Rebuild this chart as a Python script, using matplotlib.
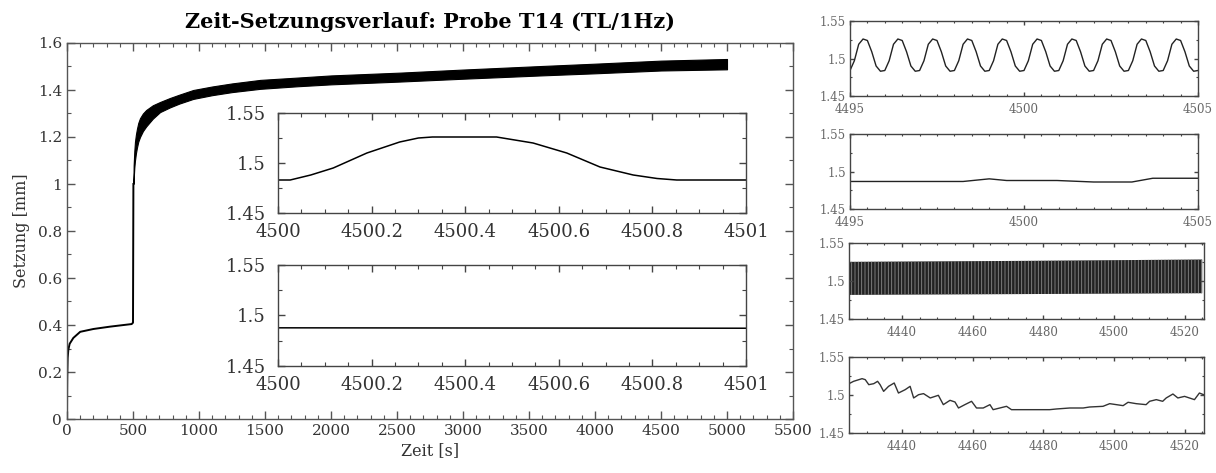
import numpy as np
import matplotlib
matplotlib.use("Agg")
import matplotlib.pyplot as plt
from matplotlib.ticker import MultipleLocator, FuncFormatter

plt.rcParams['font.family'] = ['DejaVu Serif']
plt.rcParams['hatch.linewidth'] = 0.6

# ---- Daten ----
# Erstbelastung 0..500 s
t_start = [0, 1, 2, 5, 10, 20, 48, 100, 200, 326, 490, 500, 503]
s_start = [0.0, 0.12, 0.18, 0.26, 0.294, 0.32, 0.345, 0.371, 0.383, 0.393, 0.404, 0.41, 1.0]

# Zyklische Belastung ab 500 s: Hüllkurven des Bandes
t_band = [503, 505, 510, 515, 522, 530, 540, 553, 575, 600, 650, 705, 780, 850, 956, 1100, 1250,
          1464, 1750, 2000, 2526, 3000, 3589, 4000, 4500, 5000]
s_upper = [1.0, 1.08, 1.14, 1.18, 1.21, 1.235, 1.26, 1.28, 1.30, 1.315, 1.335, 1.349, 1.366, 1.38,
           1.40, 1.415, 1.428, 1.443, 1.453, 1.462, 1.474, 1.487, 1.502, 1.512, 1.525, 1.532]
s_lower = [1.0, 1.02, 1.07, 1.10, 1.13, 1.155, 1.18, 1.20, 1.225, 1.245, 1.278, 1.306, 1.326, 1.342,
           1.362, 1.378, 1.391, 1.405, 1.416, 1.424, 1.436, 1.448, 1.462, 1.471, 1.483, 1.488]

# Inset 1: ein Zyklus 4500..4501 s
t_in1 = [4500.0, 4500.026, 4500.07, 4500.118, 4500.19, 4500.26, 4500.30, 4500.33, 4500.467, 4500.545,
         4500.617, 4500.688, 4500.759, 4500.81, 4500.852, 4501.0]
s_in1 = [1.483, 1.483, 1.488, 1.495, 1.510, 1.521, 1.525, 1.526, 1.526, 1.520,
         1.510, 1.496, 1.488, 1.4845, 1.483, 1.483]

# Inset 2: 4500..4501 s
t_in2 = [4500.0, 4500.5, 4501.0]
s_in2 = [1.4878, 1.4876, 1.4874]

# Rechts oben: 4495..4505 s, Werte alle 0.125 s
t_r1 = np.arange(4495.0, 4505.0001, 0.125)
s_r1 = [1.484, 1.497, 1.519, 1.526, 1.524, 1.509, 1.490, 1.483,
        1.484, 1.497, 1.519, 1.526, 1.524, 1.509, 1.490, 1.483,
        1.484, 1.497, 1.519, 1.526, 1.524, 1.509, 1.490, 1.483,
        1.484, 1.497, 1.519, 1.526, 1.524, 1.509, 1.490, 1.483,
        1.484, 1.497, 1.519, 1.526, 1.524, 1.509, 1.490, 1.483,
        1.484, 1.497, 1.519, 1.526, 1.524, 1.509, 1.490, 1.483,
        1.484, 1.497, 1.519, 1.526, 1.524, 1.509, 1.490, 1.483,
        1.484, 1.497, 1.519, 1.526, 1.524, 1.509, 1.490, 1.483,
        1.484, 1.497, 1.519, 1.526, 1.524, 1.509, 1.490, 1.483,
        1.484, 1.497, 1.519, 1.526, 1.524, 1.509, 1.490, 1.483,
        1.484]

# Rechts, zweites Feld: 4495..4505 s
t_r2 = [4495.0, 4498.25, 4499.0, 4499.5, 4500.95, 4502.0, 4503.1, 4503.7, 4505.0]
s_r2 = [1.4867, 1.4867, 1.4902, 1.488, 1.488, 1.486, 1.486, 1.491, 1.491]

# Rechts, drittes Feld: 4425..4525 s (Hüllkurve der Schwingung)
t_r3 = [4425, 4475, 4525]
s_r3_hi = [1.5252, 1.5265, 1.5283]
s_r3_lo = [1.4817, 1.4828, 1.4839]

# Rechts unten: 4425..4525 s
t_r4 = [4425.0, 4426.3, 4428.7, 4429.6, 4430.6, 4432.0, 4433.1, 4433.8, 4434.8, 4436.2, 4437.8,
        4439.0, 4440.9, 4442.3, 4443.3, 4444.7, 4446.1, 4448.0, 4450.3, 4451.7, 4453.6, 4455.0,
        4456.0, 4457.8, 4459.7, 4461.1, 4463.0, 4464.9, 4465.8, 4467.7, 4469.6, 4471.0, 4474.3,
        4478.1, 4481.8, 4483.7, 4487.5, 4491.3, 4493.1, 4496.9, 4498.8, 4500.7, 4502.6, 4504.0,
        4506.3, 4509.1, 4510.1, 4512.0, 4513.8, 4514.8, 4516.7, 4518.1, 4520.0, 4522.8, 4524.2, 4525.4]
s_r4 = [1.5149, 1.5180, 1.5215, 1.5202, 1.5136, 1.5149, 1.5180, 1.5136, 1.5048, 1.5114, 1.5158,
        1.5026, 1.5070, 1.5114, 1.4961, 1.5004, 1.5018, 1.4961, 1.4996, 1.4873, 1.4930, 1.4908,
        1.4829, 1.4873, 1.4917, 1.4829, 1.4829, 1.4873, 1.4807, 1.4829, 1.4851, 1.4807, 1.4807,
        1.4807, 1.4807, 1.4816, 1.4829, 1.4829, 1.4842, 1.4851, 1.4886, 1.4873, 1.4860, 1.4904,
        1.4886, 1.4873, 1.4917, 1.4939, 1.4917, 1.4961, 1.5013, 1.4961, 1.4982, 1.4939, 1.5026, 1.5004]

W, H = 1216, 473
fig = plt.figure(figsize=(W / 100, H / 100), dpi=100)


def box(l, t, r, b):
    return fig.add_axes([l / W, 1 - b / H, (r - l) / W, (b - t) / H])


def style(ax, size, col, lmaj, lmin, spine='#555555'):
    for s in ax.spines.values():
        s.set_color(spine)
        s.set_linewidth(1.0)
    ax.tick_params(which='both', direction='in', top=True, right=True,
                   labelsize=size, labelcolor=col, color=spine)
    ax.tick_params(which='major', length=lmaj, width=1.0)
    ax.tick_params(which='minor', length=lmin, width=0.8)


fmt_g = FuncFormatter(lambda v, p: f"{v:g}")

# ---- Hauptdiagramm ----
ax = box(67, 43, 793, 419)
ax.plot(t_start, s_start, color='black', lw=1.4)
ax.fill_between(t_band, s_lower, s_upper, color='black', lw=0.8, edgecolor='black')
ax.set_xlim(0, 5500)
ax.set_ylim(0, 1.6)
ax.xaxis.set_major_locator(MultipleLocator(500))
ax.xaxis.set_minor_locator(MultipleLocator(100))
ax.yaxis.set_major_locator(MultipleLocator(0.2))
ax.yaxis.set_minor_locator(MultipleLocator(0.1))
ax.yaxis.set_major_formatter(fmt_g)
style(ax, 11, '#333333', 6, 3)
ax.set_xlabel('Zeit [s]', fontsize=11.5, color='#333333', labelpad=3)
ax.set_ylabel('Setzung [mm]', fontsize=11.5, color='#333333', labelpad=6)
fig.text(430 / W, 1 - 22 / H, 'Zeit-Setzungsverlauf: Probe T14 (TL/1Hz)',
         ha='center', va='center', fontsize=15, fontweight='bold', color='black')

# ---- Insets ----
for (l, t, r, b), tx, sy in [((278, 113, 746, 213), t_in1, s_in1),
                             ((278, 265, 746, 366), t_in2, s_in2)]:
    ai = box(l, t, r, b)
    ai.plot(tx, sy, color='black', lw=1.1)
    ai.set_xlim(4500, 4501)
    ai.set_ylim(1.45, 1.55)
    ai.xaxis.set_major_locator(MultipleLocator(0.2))
    ai.xaxis.set_minor_locator(MultipleLocator(0.05))
    ai.yaxis.set_major_locator(MultipleLocator(0.05))
    ai.yaxis.set_minor_locator(MultipleLocator(0.025))
    ai.xaxis.set_major_formatter(fmt_g)
    ai.yaxis.set_major_formatter(fmt_g)
    style(ai, 13, '#333333', 5, 3, spine='#444444')
    ai.tick_params(axis='x', pad=7)
    ai.tick_params(axis='y', pad=9)

# ---- rechte Felder ----
right = [((850, 21, 1198, 96), (4495, 4505), 5, 0.5),
         ((850, 134, 1198, 209), (4495, 4505), 5, 0.5),
         ((849, 243, 1204, 319), (4425, 4525.5), 20, 5),
         ((849, 357, 1204, 433), (4425, 4525.5), 20, 5)]
rax = []
for (l, t, r, b), xl, maj, mnr in right:
    a = box(l, t, r, b)
    a.set_xlim(*xl)
    a.set_ylim(1.45, 1.55)
    a.xaxis.set_major_locator(MultipleLocator(maj))
    a.xaxis.set_minor_locator(MultipleLocator(mnr))
    a.yaxis.set_major_locator(MultipleLocator(0.05))
    a.yaxis.set_minor_locator(MultipleLocator(0.025))
    a.xaxis.set_major_formatter(fmt_g)
    a.yaxis.set_major_formatter(fmt_g)
    style(a, 8.5, '#666666', 3, 1.5, spine='#444444')
    a.tick_params(axis='x', pad=5)
    a.tick_params(axis='y', pad=3)
    rax.append(a)

rax[0].plot(t_r1, s_r1, color='#222222', lw=1.0)
rax[1].plot(t_r2, s_r2, color='#222222', lw=1.0)
rax[2].fill_between(t_r3, s_r3_lo, s_r3_hi, facecolor='#222222', edgecolor='#8a8a8a',
                    lw=0, hatch='|||||')
rax[3].plot(t_r4, s_r4, color='#333333', lw=1.0)

fig.savefig('out.png', dpi=100)
